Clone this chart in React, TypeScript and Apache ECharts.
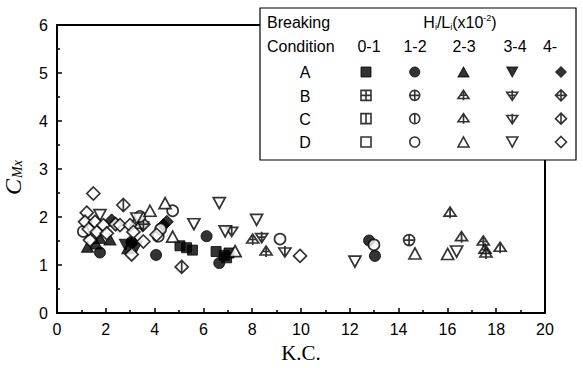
import React, { useEffect, useRef } from 'react';
import * as echarts from 'echarts';

// K.C. (x) , C_Mx (y) — breaking condition A–D, steepness Hi/Li classes
const A01 = [[5.04, 1.40], [5.31, 1.36], [5.55, 1.31], [6.52, 1.28], [6.85, 1.20], [7.05, 1.25], [6.95, 1.15]];
const A12 = [[1.76, 1.26], [3.05, 1.48], [4.06, 1.21], [6.13, 1.60], [6.65, 1.04], [12.79, 1.51], [13.03, 1.19]];
const A23 = [[1.25, 1.38], [1.6, 1.45], [1.76, 1.56], [2.17, 1.53], [2.9, 1.35]];
const A34 = [[2.8, 1.42], [3.25, 1.38]];
const A45 = [[2.24, 1.93], [3.1, 1.47], [4.36, 1.83], [4.5, 1.90]];
const B01: number[][] = [];
const B12 = [[14.43, 1.52]];
const B23 = [[8.02, 1.53], [8.57, 1.28], [17.47, 1.49], [17.54, 1.32], [17.58, 1.24]];
const B34 = [[8.39, 1.58], [3.5, 1.82]];
const B45 = [[3.54, 1.85]];
const C01: number[][] = [];
const C12: number[][] = [];
const C23 = [[16.11, 2.09], [16.58, 1.58], [18.16, 1.36]];
const C34 = [[7.16, 1.71], [9.34, 1.28]];
const C45 = [[2.72, 2.25], [5.11, 0.96]];
const D01: number[][] = [];
const D12 = [[1.08, 1.70], [3.40, 2.01], [4.15, 1.60], [4.25, 1.75], [4.74, 2.13], [9.14, 1.54], [12.99, 1.42]];
const D23 = [[3.2, 1.88], [3.81, 2.13], [4.43, 2.29], [4.74, 1.59], [7.3, 1.29], [14.67, 1.24], [16.01, 1.23]];
const D34 = [[1.76, 2.04], [3.27, 1.97], [5.61, 1.85], [6.65, 2.29], [6.89, 1.70], [8.18, 1.94], [12.21, 1.07], [16.38, 1.28]];
const D45 = [[1.49, 2.49], [1.22, 2.09], [1.15, 1.90], [1.35, 1.52], [1.3, 1.75], [1.56, 1.90], [1.63, 1.69], [1.90, 1.83], [2.04, 1.66], [2.4, 1.85], [2.58, 1.83], [2.99, 1.83], [3.13, 1.69], [3.06, 1.22], [3.54, 1.49], [4.08, 1.63], [9.96, 1.19]];

const CONDITIONS = ['A', 'B', 'C', 'D'];
const CLASSES = ['0-1', '1-2', '2-3', '3-4', '4-'];
const DATA: number[][][][] = [
  [A01, A12, A23, A34, A45],
  [B01, B12, B23, B34, B45],
  [C01, C12, C23, C34, C45],
  [D01, D12, D23, D34, D45],
];

const X_MIN = 0, X_MAX = 20, X_STEP = 2;
const Y_MIN = 0, Y_MAX = 6, Y_STEP = 1;

const SQ = 'M0,0L10,0L10,10L0,10Z';
const CI = 'M0,5A5,5,0,1,1,10,5A5,5,0,1,1,0,5Z';
const TU = 'M5,0L10,9L0,9Z';
const TD = 'M0,2L10,2L5,11Z';
const DI = 'M5,0L10,5L5,10L0,5Z';
const SYMBOLS: string[][] = [
  ['rect', 'path://' + SQ + 'M5,0L5,10M0,5L10,5', 'path://' + SQ + 'M5,0L5,10', 'rect'],
  ['circle', 'path://' + CI + 'M5,0L5,10M0,5L10,5', 'path://' + CI + 'M5,0L5,10', 'circle'],
  ['triangle', 'path://' + TU + 'M5,0L5,11M1.95,5.5L8.05,5.5', 'path://' + TU + 'M5,0L5,11', 'triangle'],
  ['path://' + TD, 'path://' + TD + 'M5,0L5,11M1.95,5.5L8.05,5.5', 'path://' + TD + 'M5,0L5,11', 'path://' + TD],
  ['diamond', 'path://' + DI + 'M5,0L5,10M0,5L10,5', 'path://' + DI + 'M5,0L5,10', 'diamond'],
];
const SIZES: number[][] = [[10, 10], [11, 11], [12, 11], [12, 11], [13, 13]];
const LEG_SIZES: number[][] = [[10, 10], [10, 10], [11, 10], [11, 10], [11, 11]];

const SANS = '"Liberation Sans", Arial, sans-serif';
const SERIF = '"Liberation Serif", "Times New Roman", serif';

function buildOption() {
  const series: any[] = [];
  for (let c = 0; c < 4; c++) {
    for (let k = 0; k < 5; k++) {
      const filled = c === 0;
      const style = filled
        ? { color: '#000', borderColor: '#000', borderWidth: 1 }
        : { color: '#fff', borderColor: '#000', borderWidth: 1.7 };
      series.push({
        type: 'scatter',
        name: CONDITIONS[c] + ' ' + CLASSES[k],
        xAxisIndex: 0,
        yAxisIndex: 0,
        data: DATA[c][k],
        symbol: SYMBOLS[k][c],
        symbolSize: SIZES[k],
        itemStyle: style,
        emphasis: { disabled: true },
        z: 2 + c,
      });
      series.push({
        type: 'scatter',
        name: 'legend ' + CONDITIONS[c] + ' ' + CLASSES[k],
        xAxisIndex: 2,
        yAxisIndex: 2,
        data: [[k, c]],
        symbol: SYMBOLS[k][c],
        symbolSize: LEG_SIZES[k],
        itemStyle: { ...style, borderWidth: filled ? 1 : 1.6 },
        emphasis: { disabled: true },
        z: 120,
      });
    }
  }

  const axisLine = { show: true, onZero: false, lineStyle: { color: '#000', width: 2 } };
  const label = { color: '#000', fontSize: 16, fontFamily: SANS };

  const txt = (text: string, x: number, y: number, align = 'left') => ({
    type: 'text',
    x,
    y,
    z: 120,
    style: { text, fill: '#000', font: '16px ' + SANS, align, verticalAlign: 'middle' },
  });

  const graphic: any[] = [
    {
      type: 'rect',
      z: 100,
      shape: { x: 260, y: 8, width: 316, height: 152 },
      style: { fill: '#fff', stroke: '#000', lineWidth: 1.2 },
    },
    txt('Breaking', 267, 22),
    txt('Condition', 267, 46),
    {
      type: 'text',
      x: 460,
      y: 22,
      z: 120,
      style: {
        text: '{n|H}{s|i}{n|/L}{s|i}{n|(x10}{p|-2}{n|)}',
        align: 'center',
        verticalAlign: 'middle',
        rich: {
          n: { fontSize: 16, fontFamily: SANS, fill: '#000', lineHeight: 20 },
          s: { fontSize: 9, fontFamily: SANS, fill: '#000', padding: [9, 0, 0, 0], lineHeight: 20 },
          p: { fontSize: 9, fontFamily: SANS, fill: '#000', padding: [0, 0, 9, 0], lineHeight: 20 },
        },
      },
    },
    txt('0-1', 369, 46, 'center'),
    txt('1-2', 415, 46, 'center'),
    txt('2-3', 464, 46, 'center'),
    txt('3-4', 515, 46, 'center'),
    txt('4-', 550, 46, 'center'),
    txt('A', 305, 72, 'center'),
    txt('B', 305, 96, 'center'),
    txt('C', 305, 119, 'center'),
    txt('D', 305, 142, 'center'),
    {
      type: 'group',
      x: 13,
      y: 178,
      rotation: Math.PI / 2,
      children: [
        { type: 'text', x: -17, y: 0, style: { text: 'C', font: 'italic 24px ' + SERIF, fill: '#000', align: 'left', verticalAlign: 'middle' } },
        { type: 'text', x: 0, y: 4, style: { text: 'Mx', font: 'italic 14px ' + SERIF, fill: '#000', align: 'left', verticalAlign: 'middle' } },
      ],
    },
  ];

  return {
    animation: false,
    backgroundColor: '#fff',
    grid: [
      { left: 57, right: 38, top: 25, bottom: 55 },
      { left: 366, width: 195, top: 72, height: 70 },
    ],
    xAxis: [
      {
        type: 'value', gridIndex: 0, min: X_MIN, max: X_MAX, interval: X_STEP,
        axisLine,
        axisTick: { show: true, inside: true, length: 5, lineStyle: { color: '#000', width: 1.5 } },
        minorTick: { show: true, splitNumber: 2, length: 3, lineStyle: { color: '#000', width: 1.5 } },
        axisLabel: { ...label, margin: 8 },
        splitLine: { show: false },
        name: 'K.C.', nameLocation: 'middle', nameGap: 29,
        nameTextStyle: { fontFamily: SERIF, fontSize: 21, color: '#000' },
      },
      {
        type: 'value', gridIndex: 0, min: X_MIN, max: X_MAX, position: 'top',
        axisLine, axisTick: { show: false }, axisLabel: { show: false }, splitLine: { show: false },
      },
      { type: 'value', gridIndex: 1, min: 0, max: 4, show: false },
    ],
    yAxis: [
      {
        type: 'value', gridIndex: 0, min: Y_MIN, max: Y_MAX, interval: Y_STEP,
        axisLine,
        axisTick: { show: true, inside: true, length: 5, lineStyle: { color: '#000', width: 1.5 } },
        minorTick: { show: true, splitNumber: 2, length: 3, lineStyle: { color: '#000', width: 1.5 } },
        axisLabel: { ...label, margin: 9 },
        splitLine: { show: false },
      },
      {
        type: 'value', gridIndex: 0, min: Y_MIN, max: Y_MAX, position: 'right',
        axisLine, axisTick: { show: false }, axisLabel: { show: false }, splitLine: { show: false },
      },
      { type: 'value', gridIndex: 1, min: 0, max: 3, inverse: true, show: false },
    ],
    series,
    graphic,
  };
}

export default function App() {
  const ref = useRef<HTMLDivElement>(null);
  useEffect(() => {
    const chart = echarts.init(ref.current!, null, { renderer: 'svg' });
    chart.setOption(buildOption() as any);
    return () => chart.dispose();
  }, []);
  return (
    <div
      ref={ref}
      style={{ position: 'fixed', left: 0, top: 0, width: 583, height: 368, background: '#fff' }}
    />
  );
}
